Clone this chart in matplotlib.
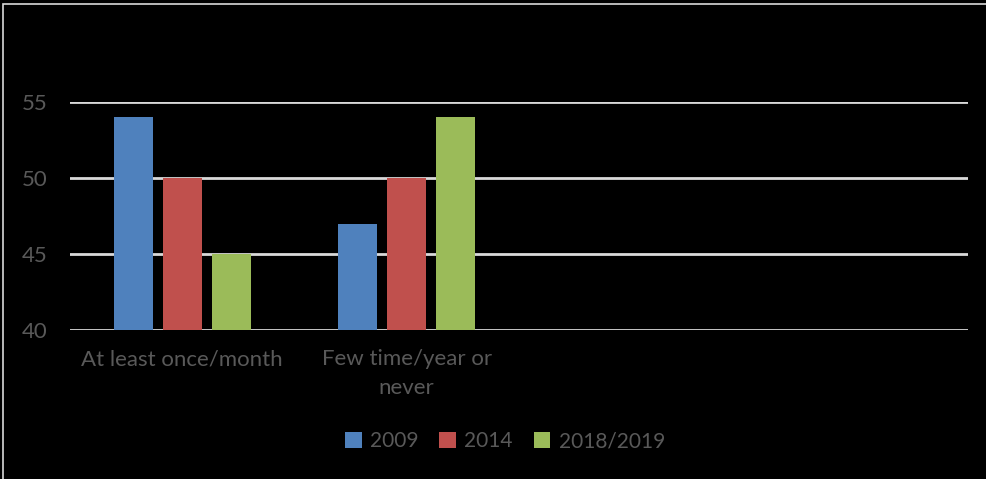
from matplotlib import pyplot as plt
from matplotlib.patches import Rectangle
import numpy as np

categories = ["At least once/month", "Few time/year or\nnever", "", ""]
series = ["2009", "2014", "2018/2019"]
v2009 = [54, 47]
v2014 = [50, 50]
v2018 = [45, 54]
colors = ["#4F81BD", "#C0504D", "#9BBB59"]

W, H = 986, 479
fig = plt.figure(figsize=(W / 100, H / 100), dpi=100, facecolor="black")
plt.rcParams["font.family"] = ["Lato", "DejaVu Sans"]
txt = "#595959"

# light border around the chart area
fig.patches.append(Rectangle((3 / W, -0.1), 1.2, (H - 4) / H + 0.1, transform=fig.transFigure,
                             fill=False, edgecolor="#D9D9D9", linewidth=1.2))

ax = fig.add_axes([70 / W, 1 - 330 / H, 898 / W, 228 / H])
ax.set_facecolor("black")
x = np.arange(len(v2009))
off = 0.218
bw = 0.175
for i, (vals, c, name) in enumerate(zip([v2009, v2014, v2018], colors, series)):
    ax.bar(x + (i - 1) * off, np.array(vals) - 40, bw, bottom=40, color=c, label=name, zorder=3)

ax.set_xlim(-0.5, len(categories) - 0.5)
ax.set_ylim(40, 55)
ax.set_yticks([40, 45, 50, 55])
ax.grid(axis="y", color="#D9D9D9", linewidth=2, zorder=0)
ax.set_xticks(range(len(categories)))
ax.set_xticklabels(categories, color=txt, fontsize=16, linespacing=1.55)
ax.tick_params(axis="y", colors=txt, labelsize=16, length=0, pad=16)
ax.tick_params(axis="x", length=0, pad=14)
for s in ax.spines.values():
    s.set_visible(False)

leg = fig.legend(loc="center", bbox_to_anchor=(505 / W, 1 - 441 / H), ncol=3, frameon=False,
                 fontsize=15, handlelength=0.8, handleheight=0.8, handletextpad=0.4,
                 columnspacing=1.0)
for t in leg.get_texts():
    t.set_color(txt)

plt.savefig("out.png", dpi=100, facecolor="black")
